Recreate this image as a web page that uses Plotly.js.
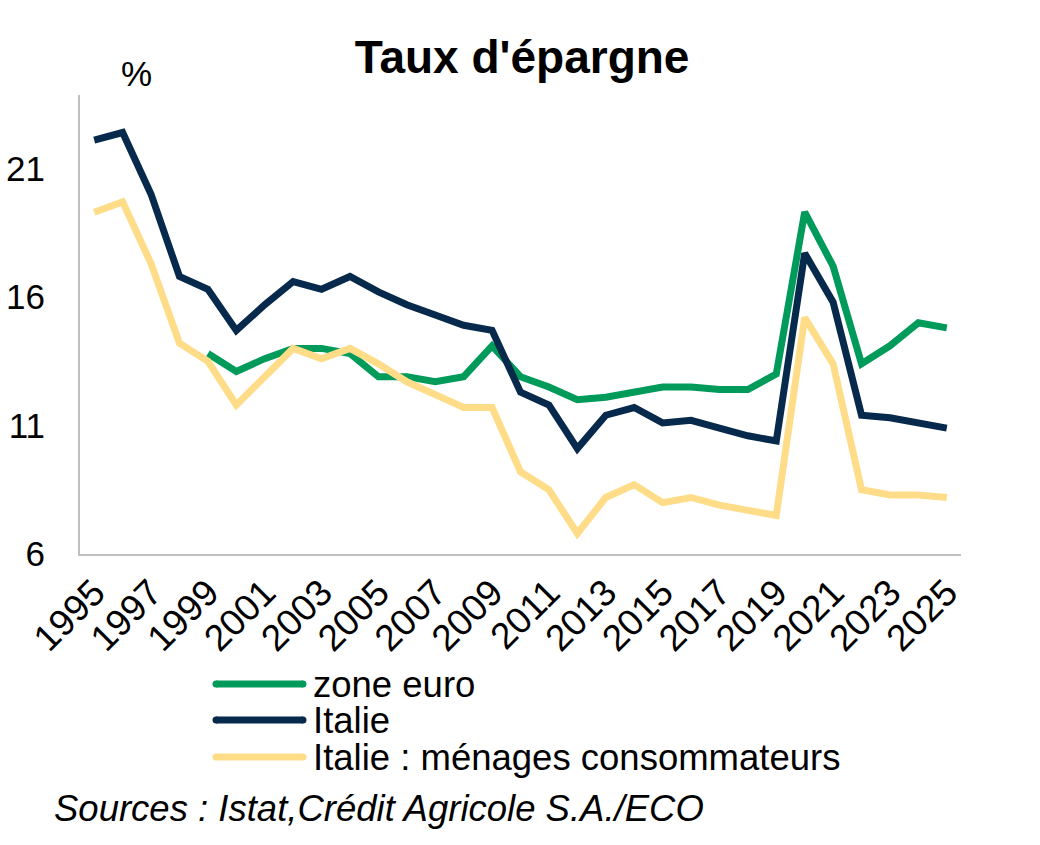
<!DOCTYPE html>
<html>
<head>
<meta charset="utf-8">
<script src="https://cdn.plot.ly/plotly-3.0.1.min.js"></script>
<style>
  html, body { margin: 0; padding: 0; background: #ffffff; }
  #chart { width: 1040px; height: 845px; }
</style>
</head>
<body>
<div id="chart"></div>
<script>
// Taux d'épargne, en % du revenu disponible
const years = [1995, 1996, 1997, 1998, 1999, 2000, 2001, 2002, 2003, 2004,
               2005, 2006, 2007, 2008, 2009, 2010, 2011, 2012, 2013, 2014,
               2015, 2016, 2017, 2018, 2019, 2020, 2021, 2022, 2023, 2024, 2025];

// zone euro: série disponible à partir de 1999
const zoneEuro = [null, null, null, null,
                  13.8, 13.1, 13.6, 14.0, 14.0, 13.8, 12.9, 12.9, 12.7, 12.9,
                  14.1, 12.9, 12.5, 12.0, 12.1, 12.3, 12.5, 12.5, 12.4, 12.4,
                  13.0, 19.3, 17.2, 13.4, 14.1, 15.0, 14.8];

const italie = [22.1, 22.4, 20.0, 16.8, 16.3, 14.7, 15.7, 16.6, 16.3, 16.8,
                16.2, 15.7, 15.3, 14.9, 14.7, 12.3, 11.8, 10.1, 11.4, 11.7,
                11.1, 11.2, 10.9, 10.6, 10.4, 17.7, 15.8, 11.4, 11.3, 11.1, 10.9];

const italieMenages = [19.3, 19.7, 17.3, 14.2, 13.5, 11.8, 12.9, 14.0, 13.6, 14.0,
                       13.4, 12.7, 12.2, 11.7, 11.7, 9.2, 8.5, 6.8, 8.2, 8.7,
                       8.0, 8.2, 7.9, 7.7, 7.5, 15.2, 13.4, 8.5, 8.3, 8.3, 8.2];

const seriesNames = ["zone euro", "Italie", "Italie : ménages consommateurs"];
const seriesColors = ["#009B5A", "#06294C", "#FFDC88"];
const seriesValues = [zoneEuro, italie, italieMenages];

const xTickVals = [1995, 1997, 1999, 2001, 2003, 2005, 2007, 2009, 2011, 2013,
                   2015, 2017, 2019, 2021, 2023, 2025];
const xTickText = xTickVals.map(String);
const yTickVals = [6, 11, 16, 21];

const titleText = "Taux d'épargne";
const unitText = "%";
const sourceText = "Sources : Istat,Crédit Agricole S.A./ECO";

// page geometry
const W = 1040, H = 845;
const M = { l: 80, r: 79, t: 95, b: 291 };
const plotW = W - M.l - M.r;
const plotH = H - M.t - M.b;
const px = (x) => (x - M.l) / plotW;          // page pixel -> paper x
const py = (y) => (H - M.b - y) / plotH;      // page pixel -> paper y

const FONT = "Liberation Sans, Arial, sans-serif";

const traces = seriesNames.map((name, i) => ({
  type: "scatter",
  mode: "lines",
  name: name,
  x: years,
  y: seriesValues[i],
  line: { color: seriesColors[i], width: 7 },
  connectgaps: false,
  hoverinfo: "x+y+name",
  showlegend: false
}));

// legend drawn below the axis with long line samples
const legendRows = [684, 720, 757];
const shapes = seriesNames.map((name, i) => ({
  type: "line",
  xref: "paper", yref: "paper",
  x0: px(216), x1: px(303),
  y0: py(legendRows[i]), y1: py(legendRows[i]),
  line: { color: seriesColors[i], width: 7 },
  layer: "above"
}));
// rounded caps for the legend samples
seriesNames.forEach((name, i) => {
  [216, 303].forEach((cx) => {
    shapes.push({
      type: "circle",
      xref: "paper", yref: "paper",
      x0: px(cx - 3.5), x1: px(cx + 3.5),
      y0: py(legendRows[i] + 3.5), y1: py(legendRows[i] - 3.5),
      fillcolor: seriesColors[i],
      line: { width: 0 },
      layer: "above"
    });
  });
});

const annotations = seriesNames.map((name, i) => ({
  xref: "paper", yref: "paper",
  x: px(311), y: py(legendRows[i]),
  xanchor: "left", yanchor: "middle",
  text: name,
  showarrow: false,
  font: { family: FONT, size: 36.5, color: "#000000" }
}));

annotations.push({
  xref: "paper", yref: "paper",
  x: px(136), y: py(74),
  xanchor: "center", yanchor: "middle",
  text: unitText,
  showarrow: false,
  font: { family: FONT, size: 35, color: "#000000" }
});

annotations.push({
  xref: "paper", yref: "paper",
  x: px(52), y: py(808),
  xanchor: "left", yanchor: "middle",
  text: "<i>" + sourceText + "</i>",
  showarrow: false,
  font: { family: FONT, size: 36.5, color: "#000000" }
});

const layout = {
  width: W,
  height: H,
  margin: M,
  paper_bgcolor: "#ffffff",
  plot_bgcolor: "#ffffff",
  showlegend: false,
  title: {
    text: "<b>" + titleText + "</b>",
    font: { family: FONT, size: 46, color: "#000000" },
    xref: "container", yref: "container",
    x: 0.502, xanchor: "center",
    y: 1 - 57 / H, yanchor: "middle"
  },
  xaxis: {
    type: "linear",
    range: [1994.5, 2025.5],
    tickmode: "array",
    tickvals: xTickVals,
    ticktext: xTickText,
    tickangle: -45,
    ticks: "",
    showgrid: false,
    zeroline: false,
    showline: true,
    linecolor: "#BFBFBF",
    linewidth: 2,
    tickfont: { family: FONT, size: 37, color: "#000000" },
    fixedrange: true
  },
  yaxis: {
    range: [6, 23.86],
    tickmode: "array",
    tickvals: yTickVals,
    ticks: "",
    ticklabelstandoff: 26,
    showgrid: false,
    zeroline: false,
    showline: true,
    linecolor: "#BFBFBF",
    linewidth: 2,
    tickfont: { family: FONT, size: 35, color: "#000000" },
    fixedrange: true
  },
  shapes: shapes,
  annotations: annotations
};

Plotly.newPlot("chart", traces, layout, { displayModeBar: false, staticPlot: true });
</script>
</body>
</html>
